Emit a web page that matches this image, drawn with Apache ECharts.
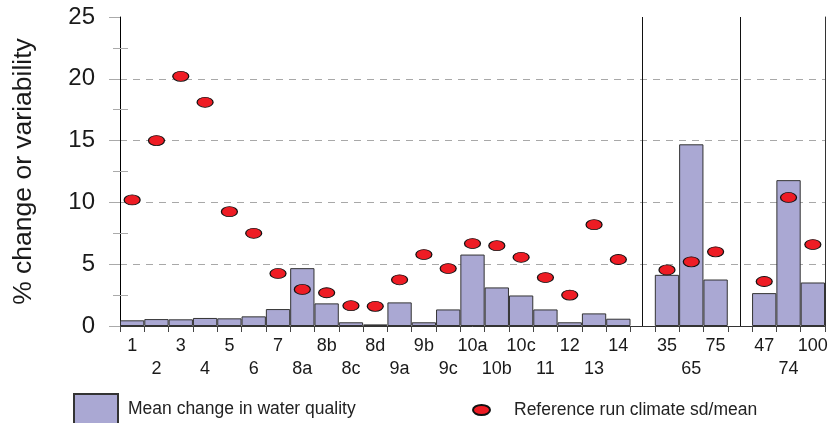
<!DOCTYPE html>
<html>
<head>
<meta charset="utf-8">
<script src="https://cdn.jsdelivr.net/npm/echarts@6/dist/echarts.min.js"></script>
<style>
html,body{margin:0;padding:0;background:#fff;}
#chart{width:833px;height:423px;}
</style>
</head>
<body>
<div id="chart"></div>
<script>
// Categories (blank entries are the gaps between the three site groups)
var categories = ['1','2','3','4','5','6','7','8a','8b','8c','8d','9a','9b','9c','10a','10b','10c','11','12','13','14',' ','35','65','75','  ','47','74','100'];
// Mean change in water quality (%)
var meanChange = [0.46,0.56,0.54,0.65,0.62,0.78,1.37,4.68,1.83,0.30,0.13,1.91,0.30,1.34,5.78,3.12,2.47,1.34,0.30,1.02,0.59,null,4.14,14.7,3.76,null,2.66,11.8,3.52];
// Reference run climate sd/mean (%)
var climateSdMean = [10.2,15.0,20.2,18.1,9.25,7.5,4.25,2.96,2.69,1.64,1.59,3.74,5.78,4.65,6.67,6.5,5.56,3.92,2.5,8.2,5.38,null,4.54,5.19,6.0,null,3.6,10.4,6.59];
// Y axis ticks
var yTicks = {min:0, max:25, interval:5};
var seriesNames = ['Mean change in water quality','Reference run climate sd/mean'];

var gapIdx = [];
categories.forEach(function(c,i){ if (c.trim()==='') gapIdx.push(i); });

var FONT = 'Liberation Sans, Arial, sans-serif';
var ellipsePath = 'path://M0,5 A5,5 0 1 1 10,5 A5,5 0 1 1 0,5 Z';

var chart = echarts.init(document.getElementById('chart'), null, {renderer:'canvas'});
chart.setOption({
  animation:false,
  backgroundColor:'#fff',
  textStyle:{fontFamily:FONT},
  grid:{left:120,right:8,top:17,bottom:97,containLabel:false},
  legend:[
    {data:[{name:seriesNames[0],icon:'rect'}],left:68,top:388,itemWidth:44,itemHeight:30,
     textStyle:{fontFamily:FONT,fontSize:17.5,color:'#222',padding:[0,0,0,5]},selectedMode:false},
    {data:[{name:seriesNames[1],icon:ellipsePath}],left:467,top:396,itemWidth:17,itemHeight:10,symbolKeepAspect:false,
     textStyle:{fontFamily:FONT,fontSize:17.5,color:'#222',padding:[0,0,0,19]},selectedMode:false}
  ],
  xAxis:[
    {type:'category',data:categories,position:'bottom',
     axisLine:{show:true,lineStyle:{color:'#aaaaaa',width:1}},
     axisTick:{show:true,length:6,interval:0,lineStyle:{color:'#444'}},
     axisLabel:{interval:0,fontSize:18,lineHeight:23,margin:9,color:'#1a1a1a',fontFamily:FONT,
       formatter:function(v,i){ return (i%2===0)? v : '\n'+v; }},
     splitLine:{show:false}},
    {type:'category',data:categories,position:'top',
     axisLine:{show:true,lineStyle:{color:'#333',width:1}},
     axisTick:{show:false},axisLabel:{show:false},splitLine:{show:false}}
  ],
  yAxis:[
    {type:'value',min:yTicks.min,max:yTicks.max,interval:yTicks.interval,position:'left',
     name:'% change or variability',nameLocation:'middle',nameGap:83,
     nameTextStyle:{fontSize:26.5,color:'#1a1a1a',fontFamily:FONT},
     axisLine:{show:true,lineStyle:{color:'#000',width:1}},
     axisTick:{show:true,length:11,lineStyle:{color:'#aaaaaa'}},
     minorTick:{show:true,splitNumber:2,length:7,lineStyle:{color:'#aaaaaa'}},
     axisLabel:{fontSize:24,margin:25,color:'#1a1a1a',fontFamily:FONT},
     splitLine:{show:true,showMinLine:false,showMaxLine:false,lineStyle:{color:'#a8a8a8',type:[7,6],width:1}}},
    {type:'value',min:yTicks.min,max:yTicks.max,interval:yTicks.interval,position:'left',
     axisLine:{show:false},axisTick:{show:false,inside:true},
     minorTick:{show:true,splitNumber:2,length:8,lineStyle:{color:'#aaaaaa'}},
     axisLabel:{show:false},splitLine:{show:false}},
    {type:'value',min:yTicks.min,max:yTicks.max,interval:yTicks.interval,position:'right',
     axisLine:{show:true,lineStyle:{color:'#333',width:1}},axisTick:{show:false},
     axisLabel:{show:false},splitLine:{show:false}}
  ],
  series:[
    {name:seriesNames[0],type:'bar',data:meanChange,barCategoryGap:'0%',
     itemStyle:{color:'#aaa8d3',borderColor:'#333',borderWidth:1},
     markLine:{silent:true,symbol:['none','none'],label:{show:false},
       lineStyle:{color:'#111',type:'solid',width:1},
       data:gapIdx.map(function(i){ return {xAxis:i}; })},
     z:2},
    {name:seriesNames[1],type:'scatter',data:climateSdMean,symbol:ellipsePath,symbolSize:[16,10],
     itemStyle:{color:'#ee1c24',borderColor:'#111',borderWidth:1,opacity:1},z:3}
  ]
});
</script>
</body>
</html>
